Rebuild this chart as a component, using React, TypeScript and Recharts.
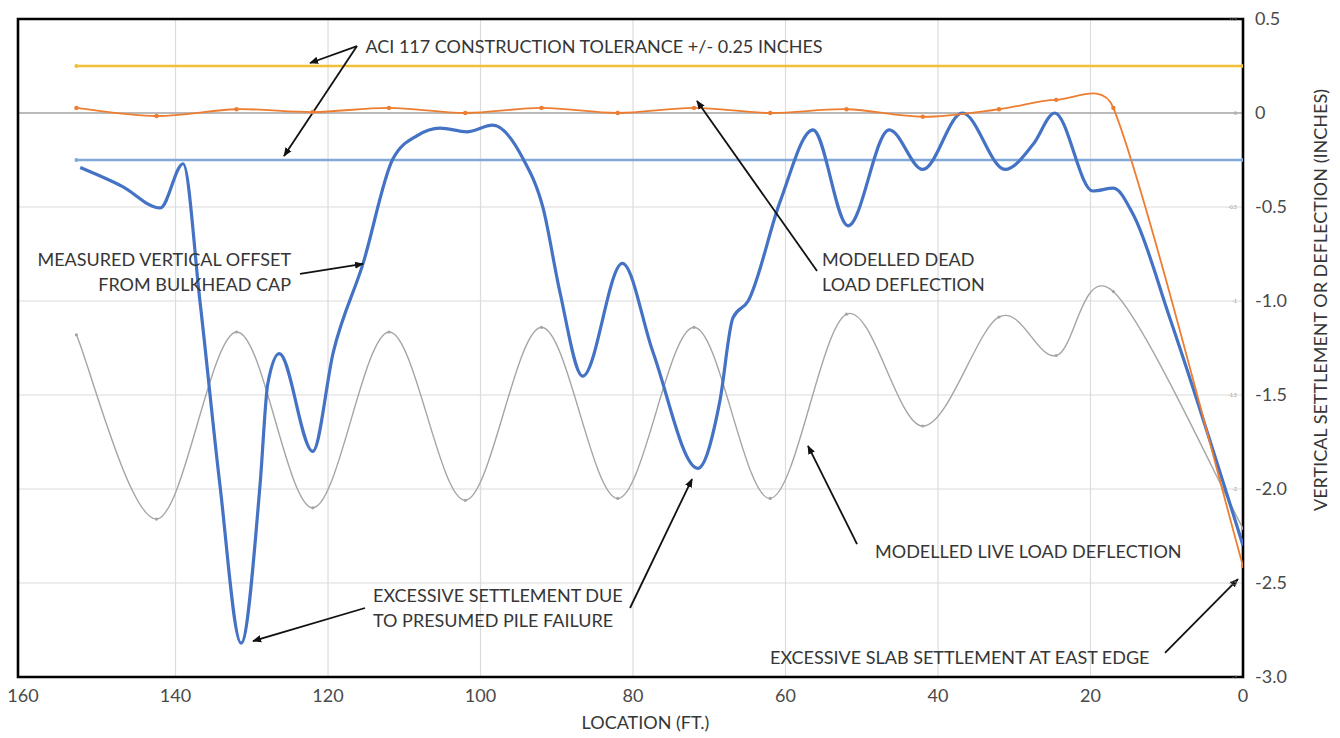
import React from 'react';
import {
  ComposedChart,
  Line,
  XAxis,
  YAxis,
  CartesianGrid,
  ReferenceLine,
  ReferenceDot,
  ReferenceArea,
} from 'recharts';

// ---------- data ----------
const xTicks = [0, 20, 40, 60, 80, 100, 120, 140, 160];
const yTicks = [0.5, 0, -0.5, -1, -1.5, -2, -2.5, -3];
const X_MAX = 160.66;

// modelled points (pile locations, ft)
const pileLocation = [153, 142.5, 132, 122, 112, 102, 92, 82, 72, 62, 52, 42, 32, 24.5, 17, 0];
const deadLoad = [0.027, -0.016, 0.02, 0.005, 0.027, 0.0, 0.027, 0.0, 0.027, 0.0, 0.02, -0.02, 0.02, 0.07, 0.027, -2.41];
const liveLoad = [-1.18, -2.16, -1.165, -2.1, -1.165, -2.06, -1.14, -2.05, -1.14, -2.05, -1.07, -1.665, -1.085, -1.29, -0.95, -2.21];

// measured vertical offset from bulkhead cap
const measuredLocation = [
  152.5, 147, 142, 139, 136.8, 134.2, 131.4, 128.9, 127.9, 126.4, 122, 119.3, 115.4, 111.5, 108.3,
  105.3, 101.8, 98.4, 94.4, 91.8, 89.6, 86.6, 81.4, 77.4, 71.5, 68.6, 66.9, 64.9, 60.7, 56.4,
  51.8, 46.4, 42, 36.8, 31.2, 27.5, 24.7, 19.7, 17, 14.4, 9.6, 0,
];
const measuredOffset = [
  -0.29, -0.39, -0.505, -0.27, -1.0, -1.97, -2.82, -1.97, -1.44, -1.28, -1.8, -1.27, -0.8, -0.245, -0.12,
  -0.08, -0.1, -0.065, -0.245, -0.505, -0.95, -1.4, -0.8, -1.27, -1.89, -1.53, -1.09, -1.0, -0.47, -0.09,
  -0.6, -0.09, -0.3, 0.0, -0.3, -0.165, 0.0, -0.415, -0.4, -0.54, -1.09, -2.3,
];

// ACI 117 tolerance
const toleranceLocation = [153, 0];
const upperTolerance = [0.25, 0.25];
const lowerTolerance = [-0.25, -0.25];

const zip = (xs: number[], ys: number[]) => xs.map((x, i) => ({ x, y: ys[i] }));
const deadData = zip(pileLocation, deadLoad);
const liveData = zip(pileLocation, liveLoad);
const measuredData = zip(measuredLocation, measuredOffset);
const upperData = zip(toleranceLocation, upperTolerance);
const lowerData = zip(toleranceLocation, lowerTolerance);

// ---------- styles ----------
const FONT = 'Lato, "Open Sans", sans-serif';
const TEXT = '#363636';
const AXIS_TEXT = '#4a4a4a';
const FS = 18;
const LINE_H = 25;

const YELLOW = '#F2C037';
const LIGHT_BLUE = '#80A8D8';
const BLUE = '#4472C4';
const ORANGE = '#ED7D31';
const GRAY = '#A5A5A5';

// Excel-like smoothed line (Catmull-Rom Bezier with limited handles)
const excelSmooth: any = (context: any) => {
  let px: number[] = [];
  let py: number[] = [];
  return {
    areaStart() {},
    areaEnd() {},
    lineStart() {
      px = [];
      py = [];
    },
    point(x: number, y: number) {
      px.push(+x);
      py.push(+y);
    },
    lineEnd() {
      const n = px.length;
      if (!n) return;
      context.moveTo(px[0], py[0]);
      if (n === 1) return;
      for (let i = 0; i < n - 1; i++) {
        const a = i > 0 ? i - 1 : i;
        const d = i + 2 < n ? i + 2 : i + 1;
        let t1x = (px[i + 1] - px[a]) / 6;
        let t1y = (py[i + 1] - py[a]) / 6;
        let t2x = (px[d] - px[i]) / 6;
        let t2y = (py[d] - py[i]) / 6;
        const seg = Math.hypot(px[i + 1] - px[i], py[i + 1] - py[i]);
        const lim = seg * 0.5;
        const l1 = Math.hypot(t1x, t1y);
        if (l1 > lim && l1 > 0) {
          t1x *= lim / l1;
          t1y *= lim / l1;
        }
        const l2 = Math.hypot(t2x, t2y);
        if (l2 > lim && l2 > 0) {
          t2x *= lim / l2;
          t2y *= lim / l2;
        }
        context.bezierCurveTo(
          px[i] + t1x,
          py[i] + t1y,
          px[i + 1] - t2x,
          py[i + 1] - t2y,
          px[i + 1],
          py[i + 1]
        );
      }
    },
  };
};

// ---------- annotation helpers ----------
function AnnText(props: any) {
  const { viewBox, lines, anchor = 'start' } = props;
  if (!viewBox) return null;
  const x = viewBox.x + (viewBox.width || 0) / 2;
  const y = viewBox.y + (viewBox.height || 0) / 2;
  return (
    <text textAnchor={anchor} fontFamily={FONT} fontSize={FS} fill={TEXT}>
      {lines.map((l: string, i: number) => (
        <tspan key={i} x={x} y={y + i * LINE_H + FS * 0.36}>
          {l}
        </tspan>
      ))}
    </text>
  );
}

function YTitle(props: any) {
  const { viewBox } = props;
  if (!viewBox) return null;
  const cx = viewBox.x + 77;
  const cy = viewBox.y + viewBox.height / 2 - 48;
  return (
    <text
      x={cx}
      y={cy}
      transform={`rotate(-90, ${cx}, ${cy})`}
      textAnchor="middle"
      dominantBaseline="central"
      fontFamily={FONT}
      fontSize={FS}
      fill={TEXT}
    >
      VERTICAL SETTLEMENT OR DEFLECTION (INCHES)
    </text>
  );
}

function XTitle(props: any) {
  const { viewBox } = props;
  if (!viewBox) return null;
  const cx = viewBox.x + viewBox.width / 2 + 15;
  const cy = viewBox.y + 45;
  return (
    <text x={cx} y={cy} textAnchor="middle" dominantBaseline="central" fontFamily={FONT} fontSize={FS} fill={TEXT}>
      LOCATION (FT.)
    </text>
  );
}

// annotation anchors (data coordinates: ft, inches)
const notes = [
  { x: 115.1, y: 0.356, lines: ['ACI 117 CONSTRUCTION TOLERANCE +/- 0.25 INCHES'], anchor: 'start' },
  { x: 124.85, y: -0.777, lines: ['MEASURED VERTICAL OFFSET', 'FROM BULKHEAD CAP'], anchor: 'end' },
  { x: 55.2, y: -0.777, lines: ['MODELLED DEAD', 'LOAD DEFLECTION'], anchor: 'start' },
  { x: 114.1, y: -2.564, lines: ['EXCESSIVE SETTLEMENT DUE', 'TO PRESUMED PILE FAILURE'], anchor: 'start' },
  { x: 48.26, y: -2.335, lines: ['MODELLED LIVE LOAD DEFLECTION'], anchor: 'start' },
  { x: 62.03, y: -2.899, lines: ['EXCESSIVE SLAB SETTLEMENT AT EAST EDGE'], anchor: 'start' },
];

const arrows = [
  [116.2, 0.356, 122.36, 0.266],
  [116.2, 0.356, 125.77, -0.229],
  [123.67, -0.856, 115.41, -0.803],
  [55.87, -0.84, 71.61, 0.064],
  [115.15, -2.633, 129.84, -2.809],
  [80.39, -2.633, 72.26, -1.947],
  [50.62, -2.293, 57.05, -1.771],
  [10.23, -2.872, 0.66, -2.479],
];

const fmtY = (v: number) => (v === 0 ? '0' : v.toFixed(1));

export default function App() {
  return (
    <div style={{ position: 'absolute', left: 0, top: 0, width: 1340, height: 738, background: '#fff' }}>
      <ComposedChart width={1340} height={738} margin={{ top: 19, right: 10, bottom: 10, left: 18 }}>
        <defs>
          <marker
            id="arrowHead"
            viewBox="0 0 10 10"
            refX="9"
            refY="5"
            markerWidth="9"
            markerHeight="9"
            markerUnits="userSpaceOnUse"
            orient="auto"
          >
            <path d="M0,1 L10,5 L0,9 z" fill="#111" />
          </marker>
        </defs>
        <CartesianGrid stroke="#dcdcdc" strokeWidth={1.2} verticalValues={[20, 40, 60, 80, 100, 120, 140]} />
        <CartesianGrid stroke="#a8a8a8" strokeWidth={1.6} vertical={false} horizontalValues={[0]} />
        <XAxis
          type="number"
          dataKey="x"
          domain={[0, X_MAX]}
          reversed
          ticks={xTicks}
          interval={0}
          allowDataOverflow
          tickLine={false}
          axisLine={false}
          tickSize={0}
          tickMargin={12}
          height={51}
          tick={{ fontSize: 18, fill: AXIS_TEXT, fontFamily: FONT }}
          label={<XTitle />}
        />
        <YAxis
          orientation="right"
          type="number"
          domain={[-3, 0.5]}
          ticks={yTicks}
          interval={0}
          allowDataOverflow
          tickFormatter={fmtY}
          tickLine={false}
          axisLine={false}
          tickSize={0}
          tickMargin={12}
          width={87}
          tick={{ fontSize: 18, fill: AXIS_TEXT, fontFamily: FONT, textAnchor: 'start' }}
          label={<YTitle />}
        />
        <YAxis
          yAxisId="inner"
          orientation="right"
          mirror
          type="number"
          domain={[-3, 0.5]}
          ticks={yTicks}
          interval={0}
          allowDataOverflow
          tickLine={false}
          axisLine={false}
          tickSize={0}
          tickMargin={6}
          width={20}
          tick={{ fontSize: 5, fill: '#9a9a9a', fontFamily: FONT }}
        />

        <Line data={upperData} dataKey="y" type="linear" stroke={YELLOW} strokeWidth={2.6}
          dot={{ r: 2, fill: YELLOW, stroke: YELLOW, strokeWidth: 0 }} isAnimationActive={false} />
        <Line data={lowerData} dataKey="y" type="linear" stroke={LIGHT_BLUE} strokeWidth={2.6}
          dot={{ r: 2, fill: LIGHT_BLUE, stroke: LIGHT_BLUE, strokeWidth: 0 }} isAnimationActive={false} />
        <Line data={liveData} dataKey="y" type={excelSmooth} stroke={GRAY} strokeWidth={1.4}
          dot={{ r: 1.6, fill: GRAY, stroke: GRAY, strokeWidth: 0 }} isAnimationActive={false} />
        <Line data={measuredData} dataKey="y" type="monotoneX" stroke={BLUE} strokeWidth={3.2}
          dot={false} isAnimationActive={false} />
        <Line data={deadData} dataKey="y" type={excelSmooth} stroke={ORANGE} strokeWidth={1.8}
          dot={{ r: 2.2, fill: ORANGE, stroke: ORANGE, strokeWidth: 0 }} isAnimationActive={false} />

        <ReferenceArea x1={0} x2={X_MAX} y1={-3} y2={0.5} fill="none" fillOpacity={0} stroke="#000" strokeWidth={2.6} ifOverflow="visible" />

        {arrows.map((a, i) => (
          <ReferenceLine
            key={'a' + i}
            segment={[{ x: a[0], y: a[1] }, { x: a[2], y: a[3] }]}
            stroke="#111"
            strokeWidth={1.8}
            markerEnd="url(#arrowHead)"
            ifOverflow="visible"
          />
        ))}
        {notes.map((n, i) => (
          <ReferenceDot
            key={'n' + i}
            x={n.x}
            y={n.y}
            r={0}
            fill="none"
            stroke="none"
            ifOverflow="visible"
            label={<AnnText lines={n.lines} anchor={n.anchor} />}
          />
        ))}
      </ComposedChart>
    </div>
  );
}
